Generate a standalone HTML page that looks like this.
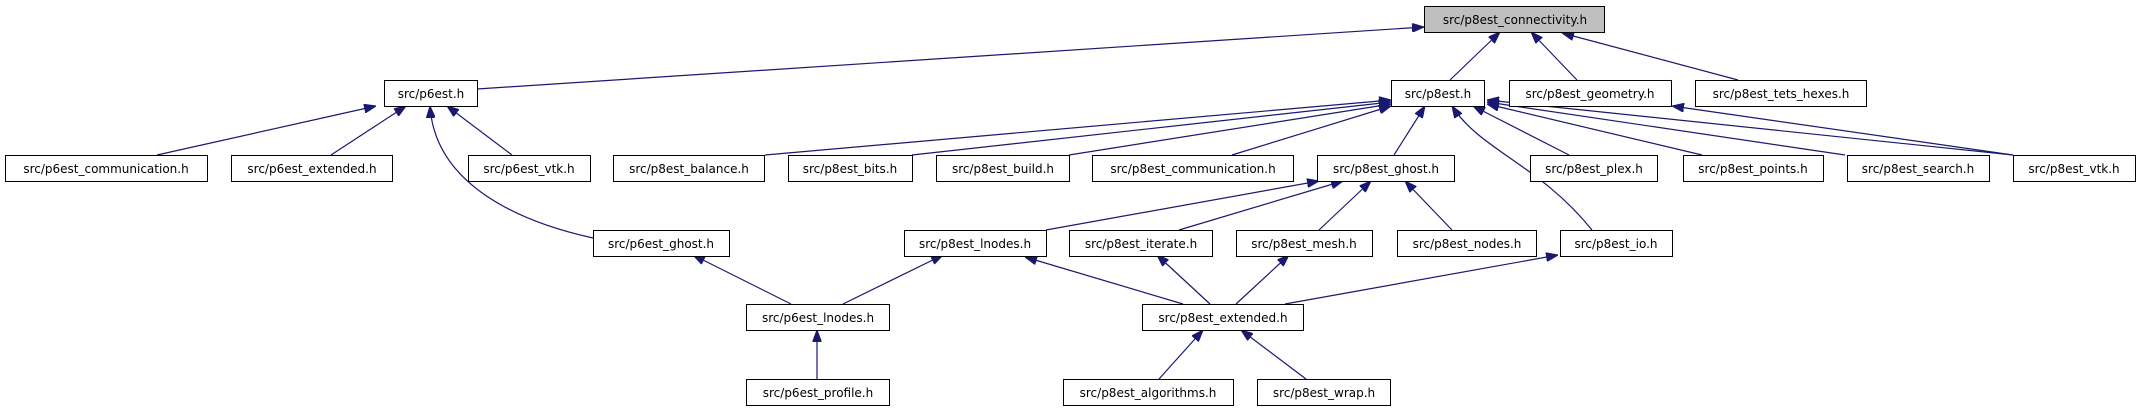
<!DOCTYPE html>
<html><head><style>body{margin:0;background:#fff}svg{display:block}text{font-family:"DejaVu Sans",sans-serif;font-size:12px;fill:#000}</style></head><body>
<svg width="2139" height="411" viewBox="0 0 2139 411" xmlns="http://www.w3.org/2000/svg">
<defs><marker id="a" viewBox="0 0 12 9" refX="12" refY="4.5" markerWidth="12" markerHeight="9" markerUnits="userSpaceOnUse" orient="auto"><path d="M0,0L12,4.5L0,9z" fill="#191970" stroke="#191970"/></marker></defs>
<g stroke="#191970" stroke-width="1.2" fill="none" marker-end="url(#a)">
<path d="M477,89L1424,27"/>
<path d="M1450,80L1500,32"/>
<path d="M1577,80L1531,32"/>
<path d="M1738,80L1562,33"/>
<path d="M157,155L376,106"/>
<path d="M331,155L406,106"/>
<path d="M512,155L447,106"/>
<path d="M593,238C520,222 435,185 430,106"/>
<path d="M791,304L693,255"/>
<path d="M843,304L943,255"/>
<path d="M817,379L817,330"/>
<path d="M765,155L1391,100"/>
<path d="M912,155L1391,102"/>
<path d="M1069,155L1391,104"/>
<path d="M1232,155L1391,106"/>
<path d="M1394,155L1425,106"/>
<path d="M1592,230C1540,165 1480,150 1452,106"/>
<path d="M1569,155L1473,106"/>
<path d="M1702,155L1487,104"/>
<path d="M1845,155L1487,102"/>
<path d="M2013,155L1487,100"/>
<path d="M2013,155L1672,106"/>
<path d="M1046,230L1319,181"/>
<path d="M1179,230L1343,181"/>
<path d="M1319,230L1371,181"/>
<path d="M1452,230L1405,181"/>
<path d="M1183,304L1025,257"/>
<path d="M1210,304L1157,255"/>
<path d="M1236,304L1289,255"/>
<path d="M1285,304L1558,255"/>
<path d="M1159,379L1203,330"/>
<path d="M1306,379L1241,330"/>
</g>
<g stroke="#000" stroke-width="1" fill="#fff" text-anchor="middle">
<rect x="1424.5" y="6.5" width="180" height="26" fill="#bfbfbf"/><text x="1515" y="24" stroke="none">src/p8est_connectivity.h</text>
<rect x="384.5" y="80.5" width="93" height="26"/><text x="431" y="98" stroke="none">src/p6est.h</text>
<rect x="1391.5" y="80.5" width="93" height="26"/><text x="1438" y="98" stroke="none">src/p8est.h</text>
<rect x="1509.5" y="80.5" width="162" height="26"/><text x="1590" y="98" stroke="none">src/p8est_geometry.h</text>
<rect x="1695.5" y="80.5" width="171" height="26"/><text x="1781" y="98" stroke="none">src/p8est_tets_hexes.h</text>
<rect x="5.5" y="155.5" width="202" height="26"/><text x="106" y="173" stroke="none">src/p6est_communication.h</text>
<rect x="231.5" y="155.5" width="161" height="26"/><text x="312" y="173" stroke="none">src/p6est_extended.h</text>
<rect x="468.5" y="155.5" width="122" height="26"/><text x="529" y="173" stroke="none">src/p6est_vtk.h</text>
<rect x="613.5" y="155.5" width="151" height="26"/><text x="689" y="173" stroke="none">src/p8est_balance.h</text>
<rect x="788.5" y="155.5" width="124" height="26"/><text x="850" y="173" stroke="none">src/p8est_bits.h</text>
<rect x="936.5" y="155.5" width="133" height="26"/><text x="1003" y="173" stroke="none">src/p8est_build.h</text>
<rect x="1092.5" y="155.5" width="201" height="26"/><text x="1193" y="173" stroke="none">src/p8est_communication.h</text>
<rect x="1317.5" y="155.5" width="137" height="26"/><text x="1386" y="173" stroke="none">src/p8est_ghost.h</text>
<rect x="1530.5" y="155.5" width="127" height="26"/><text x="1594" y="173" stroke="none">src/p8est_plex.h</text>
<rect x="1683.5" y="155.5" width="140" height="26"/><text x="1753" y="173" stroke="none">src/p8est_points.h</text>
<rect x="1847.5" y="155.5" width="142" height="26"/><text x="1918" y="173" stroke="none">src/p8est_search.h</text>
<rect x="2013.5" y="155.5" width="122" height="26"/><text x="2074" y="173" stroke="none">src/p8est_vtk.h</text>
<rect x="593.5" y="230.5" width="136" height="26"/><text x="661" y="248" stroke="none">src/p6est_ghost.h</text>
<rect x="904.5" y="230.5" width="142" height="26"/><text x="975" y="248" stroke="none">src/p8est_lnodes.h</text>
<rect x="1069.5" y="230.5" width="143" height="26"/><text x="1141" y="248" stroke="none">src/p8est_iterate.h</text>
<rect x="1236.5" y="230.5" width="136" height="26"/><text x="1304" y="248" stroke="none">src/p8est_mesh.h</text>
<rect x="1397.5" y="230.5" width="139" height="26"/><text x="1467" y="248" stroke="none">src/p8est_nodes.h</text>
<rect x="1560.5" y="230.5" width="112" height="26"/><text x="1616" y="248" stroke="none">src/p8est_io.h</text>
<rect x="746.5" y="304.5" width="143" height="26"/><text x="818" y="322" stroke="none">src/p6est_lnodes.h</text>
<rect x="1142.5" y="304.5" width="161" height="26"/><text x="1223" y="322" stroke="none">src/p8est_extended.h</text>
<rect x="746.5" y="379.5" width="143" height="26"/><text x="818" y="397" stroke="none">src/p6est_profile.h</text>
<rect x="1063.5" y="379.5" width="170" height="26"/><text x="1148" y="397" stroke="none">src/p8est_algorithms.h</text>
<rect x="1257.5" y="379.5" width="133" height="26"/><text x="1324" y="397" stroke="none">src/p8est_wrap.h</text>
</g>
</svg>
</body></html>
